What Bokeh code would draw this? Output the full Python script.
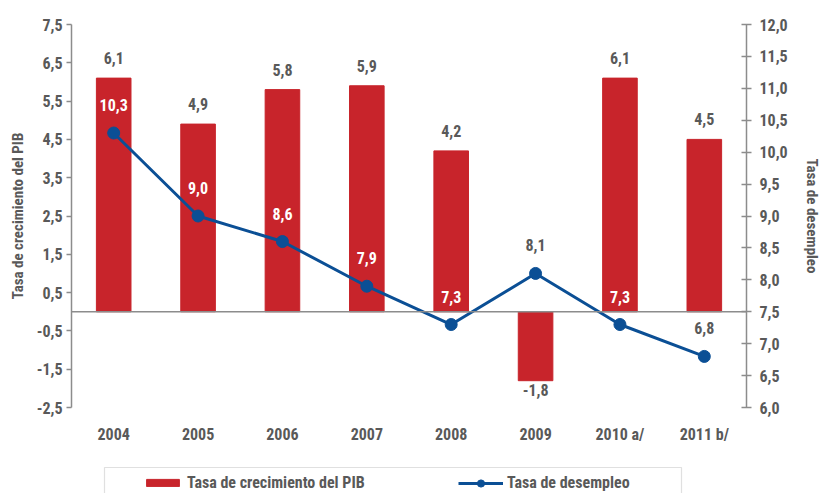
from bokeh.plotting import figure
from bokeh.layouts import column
from bokeh.models import (FactorRange, Range1d, LinearAxis, FixedTicker, Span,
                          ColumnDataSource, Legend, LegendItem, BoxAnnotation)
from bokeh.core.properties import value
from bokeh.embed import file_html
from bokeh.resources import INLINE

years = ["2004", "2005", "2006", "2007", "2008", "2009", "2010 a/", "2011 b/"]
pib = [6.1, 4.9, 5.8, 5.9, 4.2, -1.8, 6.1, 4.5]
desempleo = [10.3, 9.0, 8.6, 7.9, 7.3, 8.1, 7.3, 6.8]
left_ticks = [-2.5, -1.5, -0.5, 0.5, 1.5, 2.5, 3.5, 4.5, 5.5, 6.5, 7.5]
right_ticks = [6.0, 6.5, 7.0, 7.5, 8.0, 8.5, 9.0, 9.5, 10.0, 10.5, 11.0, 11.5, 12.0]
series_names = ["Tasa de crecimiento del PIB", "Tasa de desempleo"]

FONT = "Roboto Condensed"
GRAY = "#595959"
RED = "#C8242B"
BLUE = "#0B4F95"
LINEGRAY = "#8c8c8c"

L0, L1 = -2.5, 7.5
R0, R1 = 6.0, 12.0
W = 823
TOP, LEFT, RIGHT, BOTTOM = 24, 71, 75, 40
FW, FH = W - LEFT - RIGHT, 383
PH = TOP + FH + BOTTOM
LEG_H = 493 - PH

def fmt(v):
    return f"{v:.1f}".replace(".", ",")

p = figure(x_range=FactorRange(*years), y_range=Range1d(L0, L1),
           width=W, height=PH, output_backend="svg", toolbar_location=None,
           min_border_left=LEFT, min_border_right=RIGHT, min_border_top=TOP,
           min_border_bottom=BOTTOM)
p.extra_y_ranges = {"u": Range1d(R0, R1)}
p.outline_line_color = None
p.xgrid.visible = False
p.ygrid.visible = False

# bars
bar_src = ColumnDataSource(dict(x=years, top=pib))
p.vbar(x="x", top="top", bottom=0, width=0.41, color=RED, source=bar_src)

pos = ColumnDataSource(dict(x=[y for y, v in zip(years, pib) if v >= 0],
                            y=[v for v in pib if v >= 0],
                            lab=[fmt(v) for v in pib if v >= 0]))
neg = ColumnDataSource(dict(x=[y for y, v in zip(years, pib) if v < 0],
                            y=[v for v in pib if v < 0],
                            lab=[fmt(v) for v in pib if v < 0]))
tstyle = dict(text_font=value(FONT), text_font_style="bold", text_font_size="16px",
              text_align="center", text_baseline="middle")
p.text(x="x", y="y", text="lab", source=pos, y_offset=-20, text_color=GRAY, **tstyle)
p.text(x="x", y="y", text="lab", source=neg, y_offset=9, text_color=GRAY, **tstyle)

p.add_layout(Span(location=0, dimension="width", line_color=LINEGRAY, line_width=1.5))

# line
p.line(years, desempleo, y_range_name="u", line_color=BLUE, line_width=3)
p.scatter(years, desempleo, y_range_name="u", size=12, color=BLUE)

# label colours: white when the label sits on a bar
px_per_left = FH / (L1 - L0)
lab_colors = []
for v, u in zip(pib, desempleo):
    left_equiv = L0 + (u - R0) * (L1 - L0) / (R1 - R0) + 28 / px_per_left
    lab_colors.append("white" if (v > 0 and 0 < left_equiv < v) else GRAY)
lsrc = ColumnDataSource(dict(x=years, y=desempleo, lab=[fmt(u) for u in desempleo], c=lab_colors))
p.text(x="x", y="y", text="lab", source=lsrc, y_range_name="u", y_offset=-28,
       text_color="c", **tstyle)

# axes
ax = p.yaxis[0]
ax.ticker = FixedTicker(ticks=left_ticks)
ax.major_label_overrides = {t: fmt(t) for t in left_ticks}
ax.axis_label = series_names[0]
ax.minor_tick_line_color = None
ax.major_tick_in = 0
ax.major_tick_out = 5

rax = LinearAxis(y_range_name="u", ticker=FixedTicker(ticks=right_ticks),
                 axis_label=series_names[1])
rax.major_label_overrides = {t: fmt(t) for t in right_ticks}
rax.minor_tick_line_color = None
rax.major_tick_in = 5
rax.major_tick_out = 5
p.add_layout(rax, "right")

for a in (ax, rax):
    a.axis_line_color = LINEGRAY
    a.axis_line_width = 1.5
    a.major_tick_line_color = LINEGRAY
    a.major_tick_line_width = 1.5
    a.major_label_text_font = FONT
    a.major_label_text_font_style = "bold"
    a.major_label_text_font_size = "16px"
    a.major_label_text_color = GRAY
    a.axis_label_text_font = FONT
    a.axis_label_text_font_style = "bold"
    a.axis_label_text_font_size = "15px"
    a.axis_label_text_color = GRAY
ax.major_label_standoff = 4
ax.axis_label_standoff = 7
rax.major_label_standoff = 8
rax.axis_label_standoff = 12

xa = p.xaxis[0]
xa.axis_line_color = None
xa.major_tick_line_color = None
xa.minor_tick_line_color = None
xa.major_label_text_font = FONT
xa.major_label_text_font_style = "bold"
xa.major_label_text_font_size = "16px"
xa.major_label_text_color = GRAY
xa.major_label_standoff = 11

# legend strip below the chart; its series renderers are hidden (legend swatches only)
lf = figure(x_range=FactorRange(*years), y_range=Range1d(L0, L1),
            frame_width=W, frame_height=LEG_H,
            x_axis_type=None, y_axis_type=None, output_backend="svg",
            toolbar_location=None, min_border=0)
lf.outline_line_color = None
lf.xgrid.visible = False
lf.ygrid.visible = False
lb = lf.vbar(x=years, top=pib, bottom=0, width=0.41, color=RED, visible=False)
ll = lf.line(years, desempleo, line_color=BLUE, line_width=3, visible=False)
lp = lf.scatter(years, desempleo, size=12, color=BLUE, visible=False)

lf.add_layout(BoxAnnotation(left=104, right=681, top=467 - PH, bottom=LEG_H + 10,
                            left_units="canvas", right_units="canvas",
                            top_units="canvas", bottom_units="canvas",
                            fill_color=None, line_color="#999999", line_width=1.2))
common = dict(orientation="horizontal", border_line_color=None, background_fill_alpha=0,
              padding=0, margin=0, label_standoff=4, inactive_fill_alpha=0,
              label_text_font=FONT, label_text_font_style="bold",
              label_text_font_size="16px", label_text_color=GRAY)
leg1 = Legend(items=[LegendItem(label=series_names[0], renderers=[lb])],
              location=(142, 1), glyph_width=41, glyph_height=9, **common)
leg2 = Legend(items=[LegendItem(label=series_names[1], renderers=[ll, lp])],
              location=(458, 1), glyph_width=45, glyph_height=18, **common)
lf.add_layout(leg1, "center")
lf.add_layout(leg2, "center")

layout = column(p, lf, spacing=0)
open("out.html", "w").write(file_html(layout, INLINE))
